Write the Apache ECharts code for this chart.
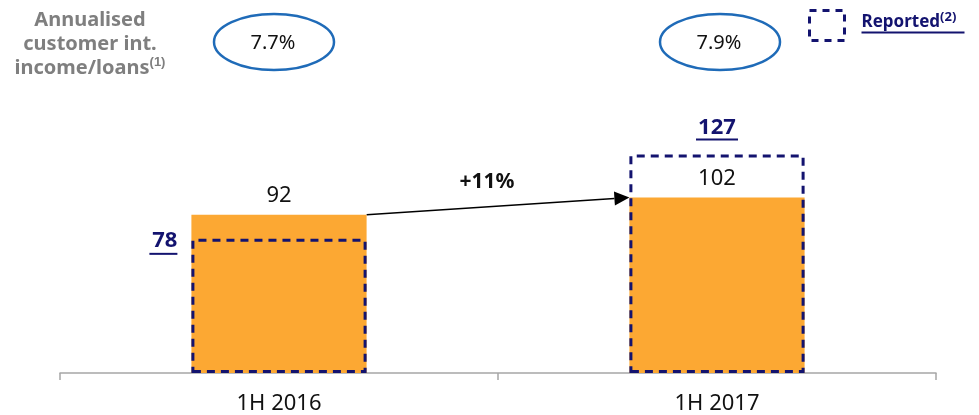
<!DOCTYPE html>
<html>
<head>
<meta charset="utf-8">
<script src="https://cdn.jsdelivr.net/npm/echarts@6/dist/echarts.min.js"></script>
<style>
html,body{margin:0;padding:0;background:#fff;}
#chart{width:979px;height:415px;}
</style>
</head>
<body>
<div id="chart"></div>
<script>
// data
var periods = ['1H 2016', '1H 2017'];
var underlying = [92, 102];
var reported = [78, 127];
var yieldRatio = ['7.7%', '7.9%'];
var growthLabel = '+11%';

var NAVY = '#13136f',
    ORANGE = '#fca833',
    BLUE = '#1f6bb8',
    GREY = '#7f7f7f',
    FONT = '"Noto Sans", sans-serif';

var chart = echarts.init(document.getElementById('chart'));

// underline made from a rich token under the value
function underlined(v){
    return '{v|' + v + '}\n{u|}';
}

chart.setOption({
    animation: false,
    textStyle: {fontFamily: FONT},
    grid: {left: 60, right: 43, top: 29, bottom: 42},
    legend: {
        data: [{name: 'Reported', icon: 'rect'}],
        selectedMode: false,
        left: 803,
        top: 4,
        itemWidth: 35,
        itemHeight: 30,
        itemStyle: {color: 'rgba(0,0,0,0)', borderColor: NAVY, borderWidth: 3, borderType: [7, 6]},
        formatter: function(){ return '{t|Reported}{s|(2)}\n{u|}'; },
        textStyle: {
            padding: [0, 0, 6, 12],
            rich: {
                t: {fontFamily: FONT, fontSize: 17, fontWeight: 'bold', color: NAVY, lineHeight: 20, verticalAlign: 'bottom'},
                s: {fontFamily: FONT, fontSize: 13, fontWeight: 'bold', color: NAVY, lineHeight: 20, verticalAlign: 'top'},
                u: {width: 103, height: 2, lineHeight: 4, backgroundColor: NAVY}
            }
        }
    },
    xAxis: {
        type: 'category',
        data: periods,
        axisLine: {lineStyle: {color: '#a6a6a6', width: 1.5}},
        axisTick: {show: true, length: 7, lineStyle: {color: '#a6a6a6', width: 1.5}},
        axisLabel: {fontFamily: FONT, fontSize: 22, color: '#111', margin: 20}
    },
    yAxis: {type: 'value', min: 0, max: 200, show: false, splitLine: {show: false}},
    series: [
        {
            name: 'Underlying',
            type: 'bar',
            data: underlying,
            barWidth: '40%',
            itemStyle: {color: ORANGE},
            label: {show: true, position: 'top', distance: 8, fontFamily: FONT, fontSize: 22, color: '#111'}
        },
        {
            name: 'Reported',
            type: 'bar',
            barWidth: '40%',
            barGap: '-100%',
            z: 3,
            itemStyle: {color: 'rgba(0,0,0,0)', borderColor: NAVY, borderWidth: 3, borderType: [8, 6]},
            data: [
                {value: reported[0], label: {
                    show: true, position: [-14, -9], align: 'right', verticalAlign: 'top',
                    formatter: underlined(reported[0]),
                    rich: {
                        v: {fontFamily: FONT, fontSize: 22, fontWeight: 'bold', color: NAVY, lineHeight: 22},
                        u: {width: 28, height: 2, lineHeight: 4, backgroundColor: NAVY}
                    }
                }},
                {value: reported[1], label: {
                    show: true, position: 'top', distance: 13,
                    formatter: underlined(reported[1]),
                    rich: {
                        v: {fontFamily: FONT, fontSize: 22, fontWeight: 'bold', color: NAVY, lineHeight: 20},
                        u: {width: 42, height: 2, lineHeight: 4, backgroundColor: NAVY}
                    }
                }}
            ]
        }
    ]
});

// annotations placed from the axes
function drawNotes(){
    var x0 = chart.convertToPixel({xAxisIndex: 0}, periods[0]),
        x1 = chart.convertToPixel({xAxisIndex: 0}, periods[1]),
        half = (x1 - x0) * 0.2,
        y0 = chart.convertToPixel({yAxisIndex: 0}, underlying[0]),
        y1 = chart.convertToPixel({yAxisIndex: 0}, underlying[1]);
    var sx = x0 + half, sy = y0, ex = x1 - half, ey = y1;
    var ang = Math.atan2(ey - sy, ex - sx), hl = 15, hw = 7;
    var bx = ex - hl * Math.cos(ang), by = ey - hl * Math.sin(ang);
    var items = [
        {
            type: 'text', x: 90, y: 8,
            style: {
                text: 'Annualised\ncustomer int.\nincome/loans{s|(1)}',
                align: 'center', verticalAlign: 'top',
                font: 'bold 20px ' + FONT, fill: GREY, lineHeight: 24,
                rich: {s: {fontSize: 13, fontWeight: 'bold', fill: GREY, verticalAlign: 'top', lineHeight: 16}}
            }
        },
        {type: 'line', shape: {x1: sx, y1: sy, x2: bx, y2: by}, style: {stroke: '#000', lineWidth: 1.5}},
        {type: 'polygon', shape: {points: [
            [ex, ey],
            [bx + hw * Math.sin(ang), by - hw * Math.cos(ang)],
            [bx - hw * Math.sin(ang), by + hw * Math.cos(ang)]
        ]}, style: {fill: '#000'}},
        {type: 'text', x: (sx + ex) / 2 - 11, y: (sy + ey) / 2 - 24, style: {
            text: growthLabel, font: 'bold 21px ' + FONT, fill: '#111', align: 'center', verticalAlign: 'middle'
        }}
    ];
    var shift = [-5, 3];
    [x0, x1].forEach(function(cx, i){
        items.push({type: 'ellipse', shape: {cx: cx + shift[i], cy: 42, rx: 60, ry: 28}, style: {fill: 'none', stroke: BLUE, lineWidth: 2.5}});
        items.push({type: 'text', x: cx + shift[i] - 1, y: 43, style: {
            text: yieldRatio[i], font: '20px ' + FONT, fill: '#111', align: 'center', verticalAlign: 'middle'
        }});
    });
    chart.setOption({graphic: items});
}
drawNotes();
</script>
</body>
</html>
